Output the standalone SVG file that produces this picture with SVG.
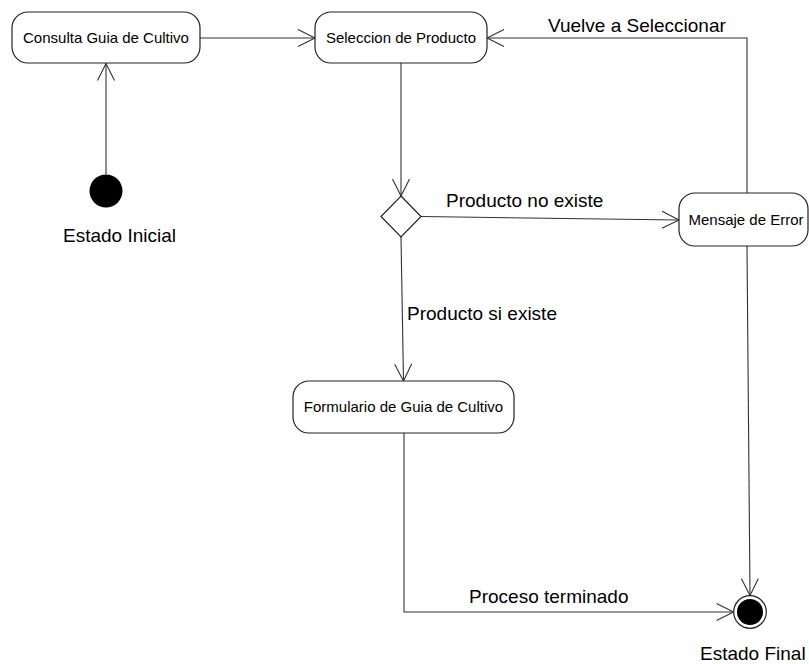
<svg xmlns="http://www.w3.org/2000/svg" width="809" height="664" viewBox="0 0 809 664">
  <style>
    .node { fill: #ffffff; stroke: #222222; stroke-width: 1.2; }
    .edge { fill: none; stroke: #333333; stroke-width: 1.1; }
    .nlabel { font-family: "Liberation Sans", Arial, sans-serif; font-size: 15px; fill: #000000; text-anchor: middle; }
    .elabel { font-family: "Liberation Sans", Arial, sans-serif; font-size: 19px; fill: #000000; }
  </style>
  <defs>
    <marker id="open-arrow" markerUnits="userSpaceOnUse" markerWidth="20" markerHeight="20" viewBox="-18 -10 20 20" refX="0" refY="0" orient="auto">
      <path d="M -17 -8.5 L 0 0 L -17 8.5" fill="none" stroke="#333333" stroke-width="1.1"/>
    </marker>
  </defs>
  <rect width="809" height="664" fill="#ffffff"/>

  <!-- transitions -->
  <g id="connectors">
    <line class="edge" x1="106" y1="174" x2="106" y2="63.5" marker-end="url(#open-arrow)"/>
    <line class="edge" x1="200" y1="38" x2="315" y2="38" marker-end="url(#open-arrow)"/>
    <line class="edge" x1="401" y1="63" x2="401" y2="196" marker-end="url(#open-arrow)"/>
    <line class="edge" x1="421" y1="216.5" x2="679" y2="220" marker-end="url(#open-arrow)"/>
    <polyline class="edge" points="747,193 747,38 487,38" marker-end="url(#open-arrow)"/>
    <line class="edge" x1="401" y1="237" x2="403.5" y2="381" marker-end="url(#open-arrow)"/>
    <line class="edge" x1="747" y1="246" x2="750" y2="595.5" marker-end="url(#open-arrow)"/>
    <polyline class="edge" points="404,433 404,612 733.5,612" marker-end="url(#open-arrow)"/>
    <text class="elabel" x="548" y="32">Vuelve a Seleccionar</text>
    <text class="elabel" x="446" y="207">Producto no existe</text>
    <text class="elabel" x="407" y="320">Producto si existe</text>
    <text class="elabel" x="469" y="603">Proceso terminado</text>
  </g>

  <g id="estado-inicial">
    <circle cx="106" cy="191" r="16.5" fill="#000000"/>
    <text class="elabel" x="63" y="242">Estado Inicial</text>
  </g>

  <g id="consulta-guia">
    <rect class="node" x="12" y="12" width="188" height="51" rx="16" ry="16"/>
    <text class="nlabel" x="106" y="43">Consulta Guia de Cultivo</text>
  </g>

  <g id="seleccion-producto">
    <rect class="node" x="315" y="12" width="172" height="51" rx="16" ry="16"/>
    <text class="nlabel" x="401" y="43">Seleccion de Producto</text>
  </g>

  <g id="decision">
    <polygon class="node" points="401,196 421,216.5 401,237 381,216.5"/>
  </g>

  <g id="mensaje-error">
    <rect class="node" x="679" y="193" width="129" height="53" rx="16" ry="16"/>
    <text class="nlabel" x="746" y="225">Mensaje de Error</text>
  </g>

  <g id="formulario-guia">
    <rect class="node" x="293" y="381" width="221" height="52" rx="16" ry="16"/>
    <text class="nlabel" x="403.5" y="412">Formulario de Guia de Cultivo</text>
  </g>

  <g id="estado-final">
    <circle cx="750" cy="612" r="16.3" fill="#ffffff" stroke="#222222" stroke-width="1.2"/>
    <circle cx="750" cy="612" r="13" fill="#000000"/>
    <text class="elabel" x="700" y="660">Estado Final</text>
  </g>
</svg>
